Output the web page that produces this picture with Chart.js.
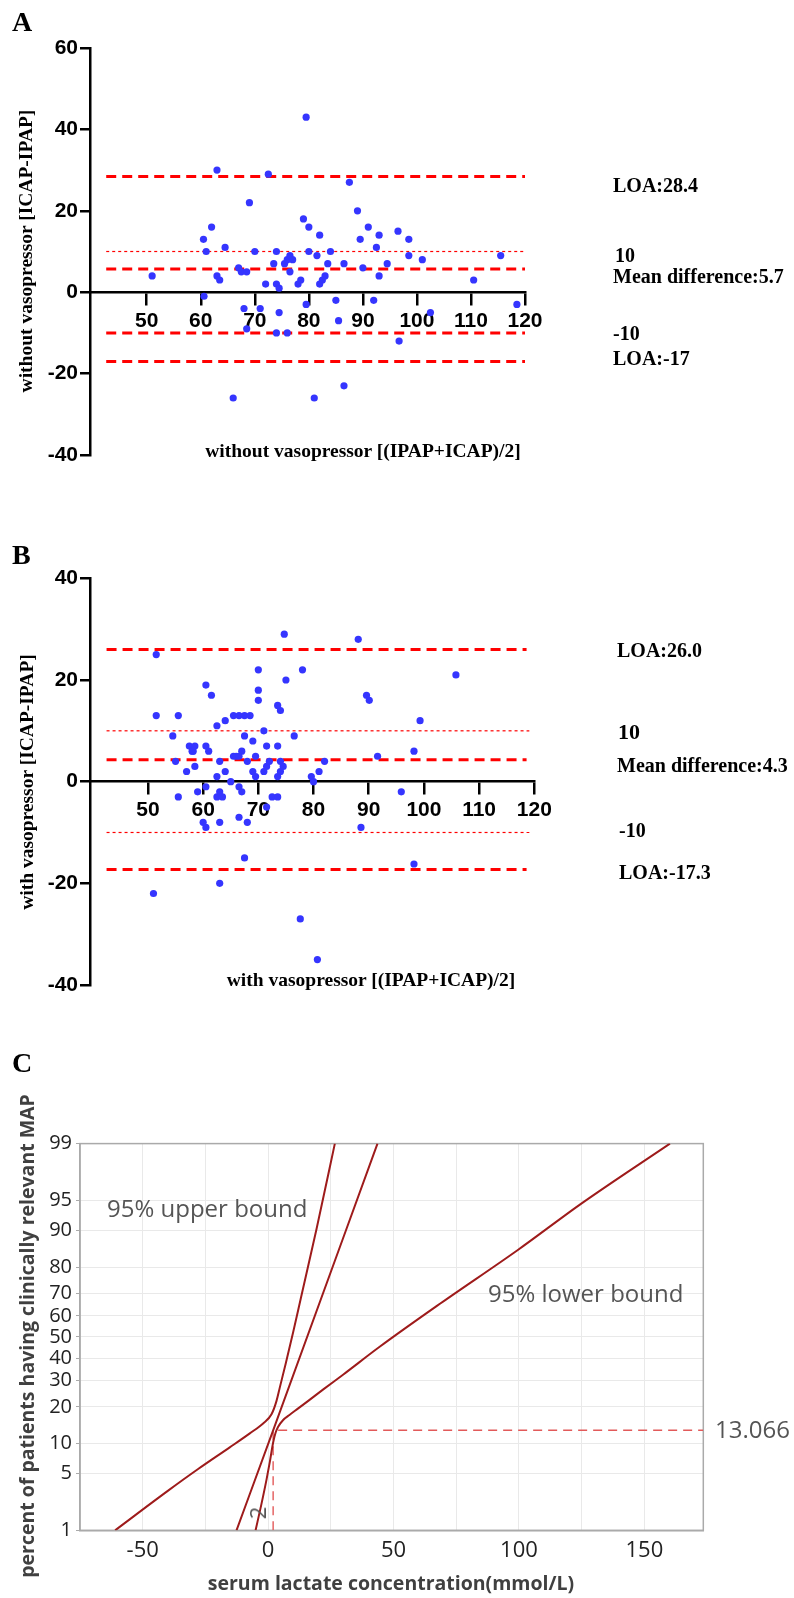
<!DOCTYPE html>
<html>
<head>
<meta charset="utf-8">
<script src="https://cdn.jsdelivr.net/npm/chart.js@4.4.1/dist/chart.umd.min.js"></script>
<style>
html, body { margin: 0; padding: 0; background: #fff; }
#page { position: relative; width: 794px; height: 1598px; overflow: hidden; background: #fff; }
canvas { position: absolute; left: 0; }
.t { position: absolute; white-space: nowrap; line-height: 1; z-index: 2; }
.serif { font-family: "Liberation Serif", "Times New Roman", serif; font-weight: bold; color: #000; }
.lab { font-size: 20px; transform: translateY(-50%); }
.panel { font-size: 28px; transform: translateY(-50%); }
.axt { font-size: 19.5px; transform: translate(-50%, -50%); }
.rot { transform: translate(-50%, -50%) rotate(-90deg); }
.sans { font-family: "Open Sans", sans-serif; }
.note { font-size: 24px; color: #555; transform: translateY(-50%); }
</style>
</head>
<body>
<div id="page">
  <canvas id="chartA" width="794" height="470" style="top:0px"></canvas>
  <canvas id="chartB" width="794" height="530" style="top:470px"></canvas>
  <canvas id="chartC" width="794" height="598" style="top:1000px"></canvas>

  <!-- panel A texts -->
  <div class="t serif panel" style="left:12px;top:22px">A</div>
  <div class="t serif axt rot" style="left:26px;top:251px">without vasopressor [ICAP-IPAP]</div>
  <div class="t serif axt" style="left:363px;top:451px">without vasopressor [(IPAP+ICAP)/2]</div>
  <div class="t serif lab" style="left:613px;top:185px">LOA:28.4</div>
  <div class="t serif lab" style="left:615px;top:255px">10</div>
  <div class="t serif lab" style="left:613px;top:276px">Mean difference:5.7</div>
  <div class="t serif lab" style="left:613px;top:333px">-10</div>
  <div class="t serif lab" style="left:613px;top:358px">LOA:-17</div>

  <!-- panel B texts -->
  <div class="t serif panel" style="left:12px;top:555px">B</div>
  <div class="t serif axt rot" style="left:27px;top:782px">with vasopressor [ICAP-IPAP]</div>
  <div class="t serif axt" style="left:371px;top:980px">with vasopressor [(IPAP+ICAP)/2]</div>
  <div class="t serif lab" style="left:617px;top:650px">LOA:26.0</div>
  <div class="t serif lab" style="left:618px;top:732px;font-size:22px">10</div>
  <div class="t serif lab" style="left:617px;top:765px">Mean difference:4.3</div>
  <div class="t serif lab" style="left:619px;top:830px">-10</div>
  <div class="t serif lab" style="left:619px;top:872px">LOA:-17.3</div>

  <!-- panel C texts -->
  <div class="t serif panel" style="left:12px;top:1063px">C</div>
  <div class="t sans rot" style="left:27px;top:1336px;font-size:19.5px;font-weight:bold;color:#404040">percent of patients having clinically relevant MAP</div>
  <div class="t sans" style="left:391px;top:1583px;font-size:19.5px;font-weight:bold;color:#404040;transform:translate(-50%,-50%)">serum lactate concentration(mmol/L)</div>
  <div class="t sans note" style="left:107px;top:1208px">95% upper bound</div>
  <div class="t sans note" style="left:488px;top:1293px">95% lower bound</div>
  <div class="t sans note" style="left:715px;top:1429px">13.066</div>
  <div class="t sans rot" style="left:257px;top:1513px;font-size:22px;color:#555">2</div>
</div>

<script>
// ---- panel A : without vasopressor ----
const avgA = [51,60.5,61,60.6,62,63,63,63.5,64.5,66,67,67.5,68.5,68,68.5,69,70,71,72,72.5,73.5,74,74,74.5,74.5,74,75.5,76,76.5,77,76.5,76,78,78.5,79,79.5,80,79.5,80,81.5,82,82,82.5,83,81,83.5,84,85,85.5,86.5,86.5,87.5,89,89.5,90,91,92,92.5,93,93,94.5,96.5,96.7,98.5,98.5,101,110.5,115.5,118.5,102.5];
const diffA = [4,13,10,-1,16,30,4,3,11,-26,6,5,5,-4,-9,22,10,-4,2,29,7,10,2,1,-5,-10,7,8,9,8,5,-10,2,3,18,43,16,-3,10,9,14,2,3,4,-26,7,10,-2,-7,7,-23,27,20,13,6,16,-2,11,14,4,7,15,-12,13,9,8,3,9,-3,-5];
const thickLinesA = [28.4, 5.7, -10, -17];
const dottedLinesA = [10];
const yTicksA = [-40, -20, 0, 20, 40, 60];

// ---- panel B : with vasopressor ----
const avgB = [51.5,51.5,51,54.5,55,55.5,55.5,57,57.5,58,58.2,58.5,58.5,59,60,60.5,60.5,60.5,60.5,61,61.5,62.5,62.5,62.5,63,63,63,63,63.5,64,64,65,65.5,65.5,66,66.5,66.5,66.5,66.5,67,67,67.5,67.5,67.5,68,68,68.5,69,69,69.5,69.5,70,70,70,71,71,71.5,71.5,71.5,72,72.5,73.5,74,73.5,73.5,73.5,74,74,74.5,74.7,75,76.5,77.6,78,79.6,80,80.7,81,82,88.1,88.6,89.6,90.1,91.6,95.9,105.8,99.3,98.2,98.2];
const diffB = [25,13,-22,9,4,13,-3,2,7,6,6,7,3,-2,-8,19,7,-1,-9,6,17,11,1,-3,4,-2,-8,-20,-3,12,2,0,13,5,5,13,5,-1,-7,6,-2,9,13,-15,4,-8,13,8,2,5,1,22,18,16,10,2,7,3,-5,4,-3,15,14,7,1,-3,2,4,3,29,20,9,-27,22,1,0,-35,2,4,28,-9,17,16,5,-2,21,12,6,-16.2];
const thickLinesB = [26.0, 4.3, -17.3];
const dottedLinesB = [10, -10];
const yTicksB = [-40, -20, 0, 20, 40];

const xTicksAB = [50, 60, 70, 80, 90, 100, 110, 120];

// ---- panel C : probit curves (x = lactate, value = percent) ----
const upperX = [-61,-40,-27.9,-15.3,-7.3,-2,1.35,3.35,4.67,7,10,13,19.3,26.6];
const upperP = [1,3.2,5.6,9.2,12.3,14.9,17.6,22.1,27.2,37.4,52.4,67.7,90.3,99];
const fitX = [-12.6, 2, 43.6];
const fitP = [1, 13.066, 99];
const lowerX = [-5.0,-2.8,-0.6,0.7,2,3,4,6,8.5,12,16,22,30,44.6,68.5,99.7,125,160.2];
const lowerP = [1,2.12,4.36,6.68,10.2,12.5,14,15.9,17.4,19.5,22.1,26.4,32.6,45.4,65.5,85.3,94.6,99];
const cutX = 2;
const cutP = 13.066;
const xGridC = [-50,-25,0,25,50,75,100,125,150];
const xTickLabelsC = [-50, 0, 50, 100, 150];
const yTickLabelsC = [1,5,10,20,30,40,50,60,70,80,90,95,99];

const tickFont = { family: 'Liberation Sans', size: 21, weight: 'bold' };

function hLine(v, from, to, w, dash) {
  return {
    data: [{ x: from, y: v }, { x: to, y: v }],
    showLine: true, pointRadius: 0, fill: false,
    borderColor: '#ff0000', borderWidth: w, borderDash: dash
  };
}

function baChart(id, avg, diff, thick, dotted, yMin, yMax, yTicks, lineEnd, pad) {
  const pts = avg.map((v, i) => ({ x: v, y: diff[i] }));
  const datasets = [{ data: pts, backgroundColor: '#3535ff', pointRadius: 3.6, borderWidth: 0 }];
  thick.forEach(v => datasets.push(hLine(v, 42.5, lineEnd, 3, [10, 6])));
  dotted.forEach(v => datasets.push(hLine(v, 42.5, lineEnd + 0.5, 1.2, [3, 3])));

  new Chart(document.getElementById(id), {
    type: 'scatter',
    data: { datasets: datasets },
    options: {
      responsive: false, animation: false, devicePixelRatio: 1,
      layout: { padding: pad },
      plugins: { legend: { display: false }, tooltip: { enabled: false } },
      scales: {
        x: {
          type: 'linear', position: { y: 0 }, min: 39.5, max: 120,
          afterBuildTicks: s => { s.ticks = xTicksAB.map(v => ({ value: v })); },
          grid: { drawOnChartArea: false, drawTicks: true, tickLength: 12, color: '#000', lineWidth: 2.5 },
          border: { color: '#000', width: 2.5 },
          ticks: { font: tickFont, color: '#000', padding: 4, maxRotation: 0, autoSkip: false }
        },
        y: {
          type: 'linear', position: 'left', min: yMin, max: yMax,
          afterFit: s => { s.width = 90; },
          afterBuildTicks: s => { s.ticks = yTicks.map(v => ({ value: v })); },
          grid: { drawOnChartArea: false, drawTicks: true, tickLength: 10, color: '#000', lineWidth: 2.5 },
          border: { color: '#000', width: 2.5 },
          ticks: { font: tickFont, color: '#000', padding: 2, autoSkip: false }
        }
      }
    }
  });
}

baChart('chartA', avgA, diffA, thickLinesA, dottedLinesA, -40, 60, yTicksA, 120,
  { top: 48, bottom: 15, left: 0, right: 269 });
baChart('chartB', avgB, diffB, thickLinesB, dottedLinesB, -40, 40, yTicksB, 118.6,
  { top: 108.3, bottom: 15, left: 0, right: 259.7 });

// inverse normal cdf, used for the probability axis of panel C
function probit(p) {
  const a = [-3.969683028665376e+01, 2.209460984245205e+02, -2.759285104469687e+02, 1.383577518672690e+02, -3.066479806614716e+01, 2.506628277459239e+00];
  const b = [-5.447609879822406e+01, 1.615858368580409e+02, -1.556989798598866e+02, 6.680131188771972e+01, -1.328068155288572e+01];
  const c = [-7.784894002430293e-03, -3.223964580411365e-01, -2.400758277161838e+00, -2.549732539343734e+00, 4.374664141464968e+00, 2.938163982698783e+00];
  const d = [7.784695709041462e-03, 3.224671290700398e-01, 2.445134137142996e+00, 3.754408661907416e+00];
  const pl = 0.02425;
  let q, r;
  if (p < pl) {
    q = Math.sqrt(-2 * Math.log(p));
    return (((((c[0]*q+c[1])*q+c[2])*q+c[3])*q+c[4])*q+c[5]) / ((((d[0]*q+d[1])*q+d[2])*q+d[3])*q+1);
  }
  if (p > 1 - pl) {
    q = Math.sqrt(-2 * Math.log(1 - p));
    return -(((((c[0]*q+c[1])*q+c[2])*q+c[3])*q+c[4])*q+c[5]) / ((((d[0]*q+d[1])*q+d[2])*q+d[3])*q+1);
  }
  q = p - 0.5; r = q * q;
  return (((((a[0]*r+a[1])*r+a[2])*r+a[3])*r+a[4])*r+a[5])*q / (((((b[0]*r+b[1])*r+b[2])*r+b[3])*r+b[4])*r+1);
}

function curve(xs, ps) {
  return {
    data: xs.map((x, i) => ({ x: x, y: probit(ps[i] / 100) })),
    showLine: true, pointRadius: 0, fill: false,
    borderColor: '#9e1b1b', borderWidth: 2, cubicInterpolationMode: 'monotone'
  };
}

const boxPlugin = {
  id: 'box',
  beforeDatasetsDraw(chart) {
    const { ctx, chartArea: a } = chart;
    ctx.save();
    ctx.strokeStyle = '#aaaaaa';
    ctx.lineWidth = 1.5;
    ctx.strokeRect(a.left, a.top, a.right - a.left, a.bottom - a.top);
    ctx.restore();
  }
};

const xMaxC = 173.5;
new Chart(document.getElementById('chartC'), {
  type: 'scatter',
  data: {
    datasets: [
      curve(upperX, upperP),
      curve(fitX, fitP),
      curve(lowerX, lowerP),
      {
        data: [{ x: cutX, y: probit(0.01) }, { x: cutX, y: probit(cutP / 100) }, { x: xMaxC, y: probit(cutP / 100) }],
        showLine: true, pointRadius: 0, fill: false,
        borderColor: '#e25a5a', borderWidth: 1.4, borderDash: [9, 6]
      }
    ]
  },
  options: {
    responsive: false, animation: false, devicePixelRatio: 1,
    layout: { padding: { top: 143.6, bottom: 27.7, left: 0, right: 90.7 } },
    plugins: { legend: { display: false }, tooltip: { enabled: false } },
    scales: {
      x: {
        type: 'linear', position: 'bottom', min: -75, max: xMaxC,
        afterFit: s => { s.height = 40; },
        afterBuildTicks: s => { s.ticks = xGridC.map(v => ({ value: v })); },
        grid: { color: '#e9e9e9', lineWidth: 1, drawTicks: false },
        border: { color: '#aaaaaa', width: 1.5 },
        ticks: {
          padding: 7, font: { family: 'Open Sans', size: 22 }, color: '#222', autoSkip: false, maxRotation: 0,
          callback: v => xTickLabelsC.includes(v) ? String(v) : ''
        }
      },
      y: {
        type: 'linear', min: probit(0.01), max: probit(0.99),
        afterFit: s => { s.width = 80; },
        afterBuildTicks: s => { s.ticks = yTickLabelsC.map(p => ({ value: probit(p / 100) })); },
        grid: { color: '#e9e9e9', lineWidth: 1, drawTicks: true, tickLength: 4, tickColor: '#aaaaaa' },
        border: { color: '#aaaaaa', width: 1.5 },
        ticks: {
          padding: 4, font: { family: 'Open Sans', size: 20 }, color: '#222', autoSkip: false,
          callback: (v, i) => String(yTickLabelsC[i])
        }
      }
    }
  },
  plugins: [boxPlugin]
});
</script>
</body>
</html>
